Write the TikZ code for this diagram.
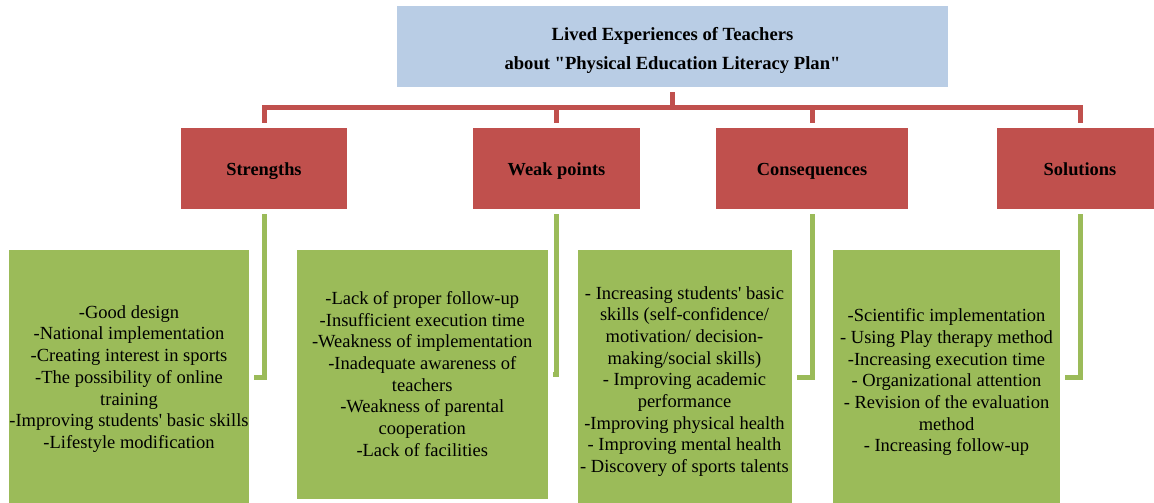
\documentclass[tikz,border=0pt]{standalone}
\usepackage{fontspec}
\setmainfont{Liberation Serif}[Ligatures=TeXOff]
\definecolor{topblue}{HTML}{B9CDE5}
\definecolor{redbox}{HTML}{C0504D}
\definecolor{greenbox}{HTML}{9BBB59}
\newcommand{\shifttext}[2]{\raisebox{#1}[\height][\depth]{\begin{tabular}{@{}c@{}}#2\end{tabular}}}
\newcommand{\shiftone}[2]{\raisebox{#1}[\height][\depth]{#2}}
\begin{document}
\begin{tikzpicture}[x=1pt,y=-1pt,
 topbox/.style={fill=topblue, minimum width=551pt, minimum height=81pt, inner sep=0pt, align=center, font=\fontsize{18.6}{29}\selectfont\bfseries},
 catbox/.style={fill=redbox, minimum height=81pt, inner sep=0pt, font=\fontsize{18.4}{22}\selectfont\bfseries},
 itembox/.style={fill=greenbox, inner sep=0pt, align=center, font=\fontsize{18.5}{21.7}\selectfont},
 redline/.style={draw=redbox, line width=5pt, shorten <=5pt, shorten >=5pt},
 greenline/.style={draw=greenbox, line width=5pt, shorten <=5pt, shorten >=5pt}]
\useasboundingbox (0,0) rectangle (1154,503);

\node[topbox] (top) at (672.5,46.5) {\shifttext{-3pt}{Lived Experiences of Teachers\\about "Physical Education Literacy Plan"}};

\node[catbox, minimum width=166.5pt] (str) at (264,168.5) {\shiftone{-3pt}{Strengths}};
\node[catbox, minimum width=167pt] (weak) at (556.5,168.5) {\shiftone{-3pt}{Weak points}};
\node[catbox, minimum width=192pt] (cons) at (812,168.5) {\shiftone{-3pt}{Consequences}};
\node[catbox, minimum width=166pt] (sol) at (1080,168.5) {\shiftone{-1pt}{Solutions}};

\node[itembox, minimum width=240pt, minimum height=255pt] (stri) at (129,377.5) {\shifttext{-1.5pt}{-Good design\\-National implementation\\-Creating interest in sports\\-The possibility of online\\training\\-Improving students' basic skills\\-Lifestyle modification}};
\node[itembox, minimum width=250.5pt, minimum height=249pt] (weaki) at (422.25,374.5) {\shifttext{-1.5pt}{-Lack of proper follow-up\\-Insufficient execution time\\-Weakness of implementation\\-Inadequate awareness of\\teachers\\-Weakness of parental\\cooperation\\-Lack of facilities}};
\node[itembox, minimum width=214pt, minimum height=255pt] (consi) at (684.5,377.5) {\shifttext{-4pt}{- Increasing students' basic\\skills (self-confidence/\\motivation/ decision-\\making/social skills)\\- Improving academic\\performance\\-Improving physical health\\- Improving mental health\\- Discovery of sports talents}};
\node[itembox, minimum width=227pt, minimum height=255pt] (soli) at (946.5,377.5) {\shifttext{-5pt}{-Scientific implementation\\- Using Play therapy method\\-Increasing execution time\\- Organizational attention\\- Revision of the evaluation\\method\\- Increasing follow-up}};

\foreach \c in {str,weak,cons,sol}
  \draw[redline] (top.south) -- ++(0,20) -| (\c.north);

\draw[greenline] (str.south) |- (stri.east);
\draw[greenline] (weak.south) |- (weaki.east);
\draw[greenline] (cons.south) |- (consi.east);
\draw[greenline] (sol.south) |- (soli.east);
\end{tikzpicture}
\end{document}
